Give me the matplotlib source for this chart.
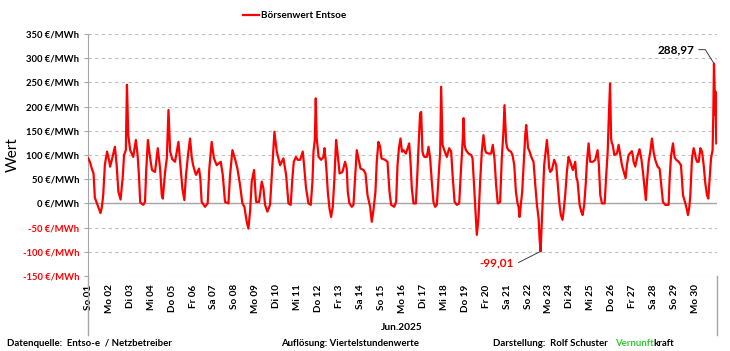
import numpy as np
import matplotlib
matplotlib.use('Agg')
import matplotlib.pyplot as plt
from matplotlib.lines import Line2D

plt.rcParams['font.family'] = ['Lato', 'DejaVu Sans']
plt.rcParams['font.weight'] = 'bold'

# Börsenwert Entsoe, Juni 2025 - hour of day / price (€/MWh)
day_labels = ['So 01', 'Mo 02', 'Di 03', 'Mi 04', 'Do 05', 'Fr 06', 'Sa 07', 'So 08', 'Mo 09', 'Di 10',
              'Mi 11', 'Do 12', 'Fr 13', 'Sa 14', 'So 15', 'Mo 16', 'Di 17', 'Mi 18', 'Do 19', 'Fr 20',
              'Sa 21', 'So 22', 'Mo 23', 'Di 24', 'Mi 25', 'Do 26', 'Fr 27', 'Sa 28', 'So 29', 'Mo 30']

hours_by_day = [
	[0, 2, 4, 6, 7.5, 9.5, 11.5, 14, 15.5, 17, 19, 21.5],
	[0, 1, 3, 6.5, 8.5, 10.5, 13, 15.5, 17, 19, 20.3, 21.8],
	[0, 3.5, 6.5, 8.5, 10, 11.5, 15, 17, 18.3, 20.3, 22.2],
	[0, 1, 4.5, 7.6, 10.3, 12.2, 13.4, 16, 18, 19.9, 21.8, 23.6],
	[0, 3.4, 7.3, 9.2, 11.8, 14.1, 16, 18.7, 20.6, 22.5],
	[0, 2.3, 3.5, 6.9, 8.4, 9.9, 13.8, 16.8, 18.7, 21.4],
	[0, 3.2, 7.8, 10.1, 12.7, 16.6, 18.5, 21.2],
	[0, 2.9, 5.9, 8.6, 10.9, 13.6, 15.5, 17.4, 19.3, 22],
	[0, 0.5, 3.7, 6.8, 8.7, 10.6, 13.3, 16.3, 19, 21.3],
	[0, 3.8, 7.6, 10.7, 13.4, 16, 17.9, 19.5, 22],
	[0, 2.8, 5.8, 7.3, 9.6, 12.3, 15, 16.9, 18.1, 19.6, 20.7, 21.8],
	[0, 2.9, 5.5, 6.7, 8.6, 10.5, 12.4, 14.3, 16.2, 18.1, 20, 21.5],
	[0, 3.3, 6.3, 8.2, 9.4, 11.3, 14, 15.9, 17.8, 19.7, 21.6],
	[0, 3.4, 5.7, 8, 11, 12.9, 14.8, 17.1, 18.6, 20.5, 22.5],
	[0, 4.2, 6.9, 9.2, 11.1, 14.5, 16.8, 18.4, 20, 21.8, 23.5],
	[0, 1.3, 4, 7.8, 9.3, 10.8, 12.7, 15.4, 16.9, 18.4, 20.3, 21.5, 23],
	[0, 1.3, 4, 5.9, 7.8, 9.7, 11.6, 13.5, 15.5, 17.4, 19.3, 20.4, 22],
	[0, 2.9, 5.6, 7.9, 9.5, 11.8, 14.4, 17.1, 19, 21, 22.1, 23.3],
	[0, 0.8, 3.8, 6.9, 8.4, 9.9, 11.4, 13.3, 15.2, 17.1, 19, 20.9, 22.9],
	[0, 2.7, 5.7, 7.6, 9.5, 11.4, 13.3, 16, 17.9, 19.8, 21, 22.9],
	[0, 1.6, 4.3, 6.2, 8.2, 10.1, 12, 13.1, 14.3, 15.8, 17.3, 18.9, 20.8, 21.9, 23.5],
	[0, 1.8, 4.4, 6.3, 8.3, 10.2, 12.1, 13.2, 14.4, 15.5, 17, 18.5, 21.6, 23.5],
	[0, 1.4, 3.3, 6, 8.3, 9.8, 11.7, 13.6, 15.5, 16.7, 18.6, 20.5, 22.4],
	[0, 3.4, 6.1, 7.3, 8.8, 11.1, 13, 14.5, 16.4, 18.3, 19.5, 21.4, 23.3],
	[0, 2.4, 5, 7.7, 9.2, 10.8, 12.7, 15.8, 17.5, 19.3, 20.5, 22, 23.2],
	[0, 1, 2.9, 5.9, 7.8, 9.7, 11.6, 14.3, 15.8, 17.3, 19.2, 23],
	[0, 1, 2.9, 4.8, 7.8, 9.8, 11.7, 13.6, 15.1, 16.3, 18.2, 20.1, 22, 23.9],
	[0, 1.8, 4.5, 6.8, 8.7, 10.6, 13.3, 17.1, 18.3, 19.8, 22.1, 23.6],
	[0, 1.9, 4.6, 7.3, 9.6, 12.3, 14.2, 15.3, 16.9, 18, 19.9, 21.8, 23.4],
	[0, 1.7, 3.6, 5.5, 7.4, 9.3, 11.2, 13.1, 14.6, 16.2, 17.7, 19.5, 20.3, 21.1, 21.8, 22.3, 22.8, 23.3, 23.75],
]

price_by_day = [
	[93, 85, 72, 62, 12, 2, -8, -20, -8, 15, 80, 107],
	[88, 76, 90, 117, 79, 24, 8, 55, 100, 110, 245, 141],
	[110, 96, 131, 100, 59, 2, -3, 3, 65, 131, 103],
	[80, 69, 65, 114, 72, 17, 10, 65, 93, 193, 107, 96],
	[92, 86, 127, 86, 31, 7, 59, 107, 134, 96],
	[80, 65, 59, 72, 52, 3, -7, 0, 72, 127],
	[93, 79, 86, 59, 3, 0, 59, 110],
	[93, 72, 38, 0, -7, -38, -52, -17, 45, 69],
	[10, 3, 3, 45, 31, -3, -17, -3, 79, 148],
	[107, 79, 93, 59, 0, -3, 52, 86, 96],
	[90, 90, 107, 79, 31, 0, -3, 45, 107, 131, 217, 134],
	[96, 90, 96, 114, 79, 24, -10, -28, -7, 52, 131, 107],
	[62, 65, 86, 72, 24, 0, -7, -3, 52, 110, 93],
	[72, 69, 62, 17, -7, -38, -14, 24, 86, 127, 117],
	[93, 90, 86, 24, -3, -7, 3, 79, 114, 134, 107],
	[107, 110, 103, 124, 86, 31, 0, 0, 52, 114, 186, 189, 107],
	[100, 96, 96, 117, 93, 45, 3, -7, -3, 52, 107, 241, 121],
	[110, 96, 114, 107, 59, 3, -3, 0, 65, 127, 176, 121],
	[115, 110, 103, 100, 93, 45, -7, -65, -31, 45, 107, 141, 110],
	[105, 103, 103, 121, 93, 38, 0, 3, 93, 148, 203, 127],
	[115, 110, 107, 100, 79, 24, 0, -7, -28, -3, 24, 79, 141, 162, 127],
	[115, 107, 93, 86, 38, -3, -31, -72, -99.01, -52, 10, 79, 131, 93],
	[75, 65, 69, 90, 79, 45, 3, -24, -34, -17, 17, 65, 96],
	[88, 69, 86, 55, 45, -3, -17, -24, -3, 45, 86, 124, 86],
	[86, 86, 90, 110, 79, 17, 0, 0, 55, 107, 175, 248, 134],
	[125, 121, 100, 103, 121, 100, 79, 62, 52, 79, 100, 108],
	[100, 86, 76, 93, 112, 93, 65, 31, 7, 45, 86, 107, 134, 107],
	[105, 90, 76, 72, 38, 3, -3, -3, 52, 96, 124, 100],
	[95, 90, 86, 79, 17, 0, -14, -24, -7, 17, 93, 114, 103],
	[95, 86, 86, 114, 107, 79, 41, 17, 10, 52, 93, 110, 180, 288.97, 240, 183, 231, 180, 124],
]

y_ticks = [-150, -100, -50, 0, 50, 100, 150, 200, 250, 300, 350]

x = np.concatenate([d + np.array(h) / 24.0 for d, h in enumerate(hours_by_day)])
y = np.concatenate([np.array(p, dtype=float) for p in price_by_day])

fig = plt.figure(figsize=(7.30, 3.51), dpi=100)
ax = fig.add_axes([88.3 / 730, 1 - 276 / 351, (716.5 - 88.3) / 730, 242 / 351])

ax.plot(x, y, color='#FF0000', lw=1.6, solid_joinstyle='round', label='Börsenwert Entsoe', zorder=3)
ax.axhline(0, color='#A6A6A6', lw=1.0, zorder=2)

ax.set_xlim(0, 30)
ax.set_ylim(-150, 350)
ax.set_yticks(y_ticks)
ax.set_yticklabels(['%d €/MWh' % v for v in y_ticks], fontsize=6.8)
for lab, v in zip(ax.get_yticklabels(), y_ticks):
	lab.set_color('#FF0000' if v < 0 else '#000000')
ax.tick_params(axis='y', length=3, width=0.8, color='#A6A6A6', pad=3.5)

ax.set_xticks(np.arange(30))
ax.set_xticklabels(day_labels, rotation=90, fontsize=7.2)
ax.tick_params(axis='x', length=0, pad=6)

ax.grid(axis='y', color='#BFBFBF', lw=0.8, linestyle=(0, (3, 3)))
ax.set_axisbelow(True)
for s in ['top', 'right', 'bottom']:
	ax.spines[s].set_visible(False)
ax.spines['left'].set_color('#A6A6A6')

# frame lines around the date axis
for xa in (0, 1):
	ax.add_line(Line2D([xa, xa], [0, -0.245], transform=ax.transAxes, color='#A6A6A6', lw=1.0, clip_on=False))

ax.set_ylabel('Wert', fontsize=11)
ax.yaxis.set_label_coords(-0.109, 0.5)

# max / min labels
i_max = np.argmax(y)
i_min = np.argmin(y)
ax.annotate(('%.2f' % y[i_max]).replace('.', ','), xy=(x[i_max], y[i_max]), xytext=(-14, 10),
			textcoords='offset points', ha='right', va='center', fontsize=8.5, color='#000000',
			arrowprops=dict(arrowstyle='-', color='#404040', lw=0.7, shrinkA=1, shrinkB=0,
							relpos=(1, 0.5), connectionstyle='angle,angleA=0,angleB=-58,rad=0'))
ax.annotate(('%.2f' % y[i_min]).replace('.', ','), xy=(x[i_min], y[i_min]), xytext=(-19, -8.5),
			textcoords='offset points', ha='right', va='center', fontsize=8.5, color='#FF0000',
			arrowprops=dict(arrowstyle='-', color='#404040', lw=0.7, shrinkA=1, shrinkB=0,
							relpos=(1, 0.5), connectionstyle='angle,angleA=0,angleB=27,rad=0'))

fig.legend(loc='center', bbox_to_anchor=(294.5 / 730, 1 - 16 / 351), frameon=False, fontsize=7.2,
		   handlelength=1.6, handletextpad=0.15)

fig.text(402 / 730, 1 - 328 / 351, 'Jun.2025', ha='center', va='center', fontsize=7.3)

fy = 1 - 343 / 351
fig.text(7 / 730, fy, 'Datenquelle:  Entso-e  / Netzbetreiber', ha='left', va='center', fontsize=6.9)
fig.text(281 / 730, fy, 'Auflösung: Viertelstundenwerte', ha='left', va='center', fontsize=6.9)
fig.text(493 / 730, fy, 'Darstellung:  Rolf Schuster', ha='left', va='center', fontsize=6.9)
t_v = fig.text(615 / 730, fy, 'Vernunft', ha='left', va='center', fontsize=6.9, color='#33CC33')
ax.annotate('kraft', xy=(1, 0), xycoords=t_v, ha='left', va='bottom', fontsize=6.9, color='#000000')

fig.savefig('out.png', dpi=100)
